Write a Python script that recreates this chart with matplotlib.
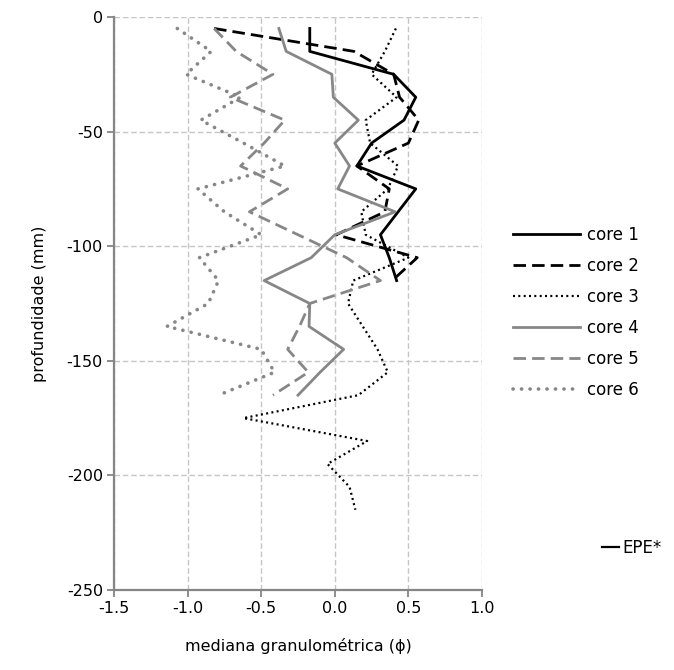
import matplotlib
matplotlib.use("Agg")
import matplotlib.pyplot as plt

# Sampling depths (mm, negative downwards)
depth_short = [-5, -15, -25, -35, -45, -55, -65, -75, -85, -95, -105, -115]
depth_mid = [-5, -15, -25, -35, -45, -55, -65, -75, -85, -95, -105, -115,
             -125, -135, -145, -155, -165]
depth_long = [-5, -15, -25, -35, -45, -55, -65, -75, -85, -95, -105, -115,
              -125, -135, -145, -155, -165, -175, -185, -195, -205, -215]

# Median grain size (phi) per core
core1 = [-0.17, -0.17, 0.40, 0.55, 0.47, 0.25, 0.15, 0.55, 0.43, 0.31, 0.37, 0.42]
core2 = [-0.82, 0.13, 0.40, 0.44, 0.57, 0.50, 0.15, 0.37, 0.34, 0.01, 0.56, 0.39]
core3 = [0.415, 0.34, 0.25, 0.42, 0.21, 0.24, 0.43, 0.36, 0.18, 0.21, 0.50, 0.125,
         0.09, 0.19, 0.29, 0.36, 0.16, -0.62, 0.22, -0.05, 0.10, 0.14]
core4 = [-0.38, -0.33, -0.02, -0.01, 0.16, 0.0, 0.10, 0.02, 0.41, 0.0, -0.16, -0.48,
         -0.17, -0.175, 0.06, -0.10, -0.25]
core5 = [-0.82, -0.67, -0.42, -0.71, -0.34, -0.48, -0.64, -0.32, -0.58, -0.25, 0.08,
         0.31, -0.17, -0.24, -0.32, -0.18, -0.42]
core6 = [-1.07, -0.84, -1.01, -0.64, -0.91, -0.62, -0.34, -0.93, -0.75, -0.50, -0.92,
         -0.79, -0.86, -1.14, -0.50, -0.41, -0.79]

x_ticks = [-1.5, -1.0, -0.5, 0.0, 0.5, 1.0]
y_ticks = [0, -50, -100, -150, -200, -250]

GREY = "#878787"
AXIS = "#868686"
GRID = "#c6c6c6"
FS = 11.5

plt.rcParams["font.family"] = ["DejaVu Sans"]

fig = plt.figure(figsize=(6.74, 6.70), dpi=100)
ax = fig.add_axes([114 / 674, 1 - 590 / 670, (482 - 114) / 674, (590 - 17) / 670])

ax.plot(core1, depth_short, color="black", lw=2.0, label="core 1")
ax.plot(core2, depth_short, color="black", lw=2.0, linestyle=(0, (4.5, 2.2)),
        label="core 2")
ax.plot(core3, depth_long, color="black", lw=1.6, linestyle=(0, (0.9, 1.5)),
        label="core 3")
ax.plot(core4, depth_mid, color=GREY, lw=2.0, label="core 4")
ax.plot(core5, depth_mid, color=GREY, lw=2.0, linestyle=(0, (4.5, 2.2)),
        label="core 5")
ax.plot(core6, depth_mid, color=GREY, lw=2.6, linestyle=(0, (0.05, 2.3)),
        dash_capstyle="round", label="core 6")
epe, = ax.plot([], [], color="black", lw=1.6, label="EPE*")

ax.set_xlim(-1.5, 1.0)
ax.set_ylim(-250, 0)
ax.set_xticks(x_ticks)
ax.set_yticks(y_ticks)
ax.set_xticklabels([f"{v:.1f}" for v in x_ticks], fontsize=FS)
ax.set_yticklabels([str(v) for v in y_ticks], fontsize=FS)

ax.grid(True, color=GRID, linestyle=(0, (4, 2)), lw=1.0)
ax.set_axisbelow(True)
for s in ("top", "right"):
    ax.spines[s].set_visible(False)
for s in ("left", "bottom"):
    ax.spines[s].set_color(AXIS)
    ax.spines[s].set_linewidth(1.6)
ax.tick_params(axis="both", direction="out", length=5, width=1.3, color=AXIS,
               pad=3, labelcolor="black")

ax.set_xlabel("mediana granulométrica (ϕ)", fontsize=FS, labelpad=16)
ax.set_ylabel("profundidade (mm)", fontsize=FS, labelpad=14)

handles = [l for l in ax.get_lines() if l.get_label().startswith("core")]
fig.legend(handles=handles, labels=[h.get_label() for h in handles],
           loc="upper left", bbox_to_anchor=(513 / 674, 1 - 226 / 670),
           frameon=False, fontsize=12, handlelength=4.0,
           handletextpad=0.45, labelspacing=0.78, borderpad=0, borderaxespad=0)
fig.legend(handles=[epe], labels=["EPE*"], loc="upper left",
           bbox_to_anchor=(602 / 674, 1 - 539 / 670), frameon=False,
           fontsize=12, handlelength=1.0, handletextpad=0.25,
           borderpad=0, borderaxespad=0)

fig.savefig("out.png", dpi=100)
